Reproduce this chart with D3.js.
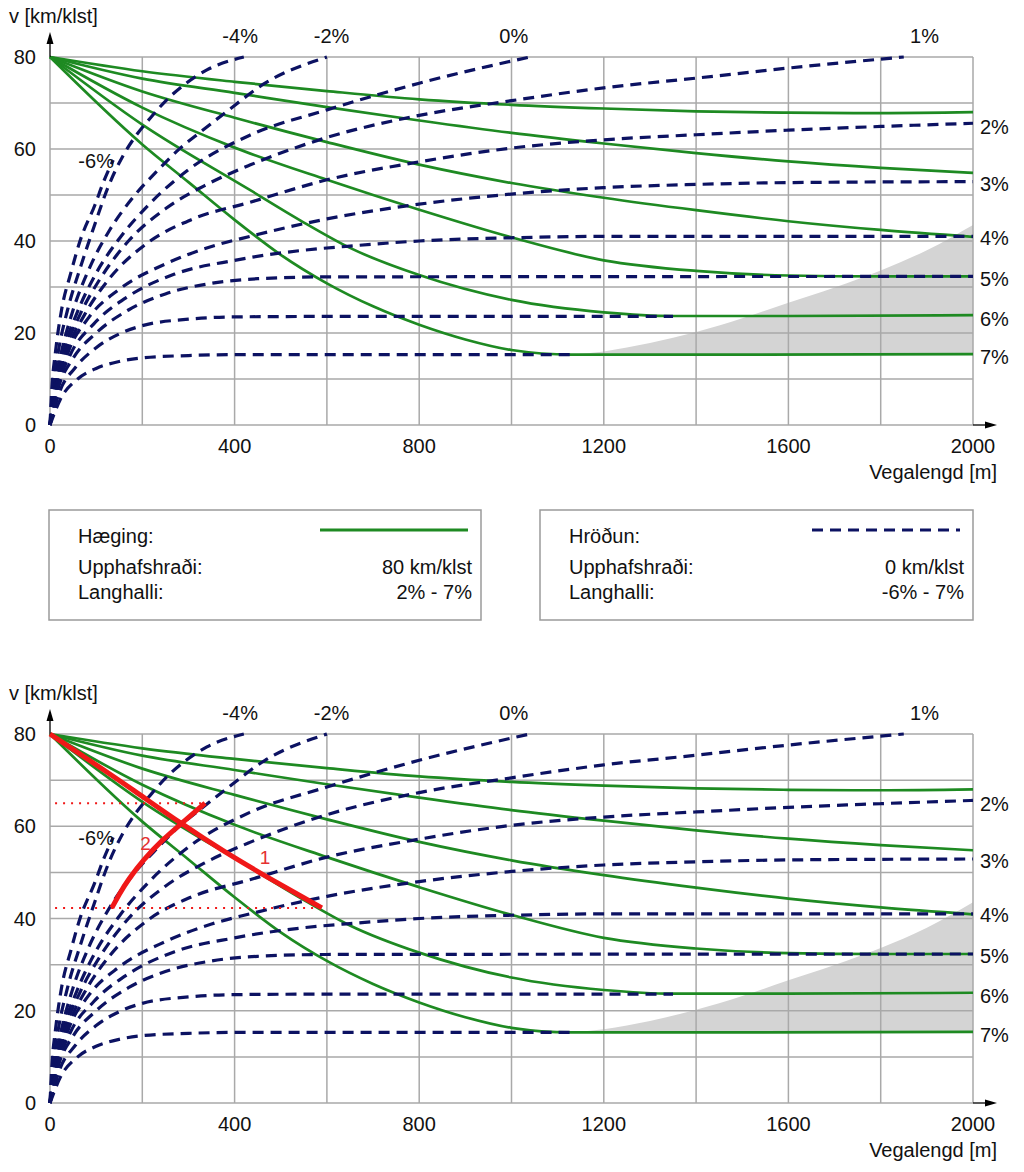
<!DOCTYPE html>
<html><head><meta charset="utf-8">
<script src="https://cdn.jsdelivr.net/npm/d3@7"></script>
<style>
body{margin:0;background:#fff}
text{font-family:"Liberation Sans",Arial,sans-serif;font-size:20px;fill:#111}
</style>
</head><body>
<svg id="chart" width="1024" height="1172"></svg>
<script>
// ---------------- DATA ----------------
const xTicks = [0, 400, 800, 1200, 1600, 2000];
const yTicks = [0, 20, 40, 60, 80];
const xGridVals = [0, 200, 400, 600, 800, 1000, 1200, 1400, 1600, 1800, 2000];
const yGridVals = [0, 10, 20, 30, 40, 50, 60, 70, 80];

// Hæging (deceleration from 80 km/klst), grades 2%..7%
const decelGrades = ["2%", "3%", "4%", "5%", "6%", "7%"];
const decel2 = [[0,80],[200,76.9],[400,74.6],[600,72.6],[800,70.8],[1000,69.6],[1200,68.8],[1400,68.2],[1600,67.9],[1800,67.8],[2000,68.0]];
const decel3 = [[0,80],[200,75.3],[400,72.2],[600,69.1],[800,66.2],[1000,63.5],[1200,61.2],[1400,59.1],[1600,57.3],[1800,55.9],[2000,54.8]];
const decel4 = [[0,80],[200,72.5],[400,66.8],[600,61.5],[800,56.6],[1000,52.6],[1200,49.4],[1400,46.7],[1600,44.3],[1800,42.4],[2000,40.9]];
const decel5 = [[0,80],[200,69.0],[400,60.3],[600,53.3],[800,46.8],[1000,40.8],[1200,35.8],[1400,33.5],[1600,32.5],[1800,32.3],[2000,32.3]];
const decel6 = [[0,80],[200,65.3],[433,51.1],[542,44.5],[650,38.5],[800,32.6],[1000,27.2],[1200,24.5],[1350,23.7],[1600,23.7],[2000,23.9]];
const decel7 = [[0,80],[200,61.0],[300,52.8],[400,44.6],[500,37.0],[600,30.8],[700,25.8],[800,21.8],[900,18.6],[1000,16.3],[1130,15.3],[1400,15.3],[2000,15.4]];

// Hröðun (acceleration from 0 km/klst), grades -6%..7%
const accelGrades = ["-6%", "-4%", "-2%", "0%", "1%", "2%", "3%", "4%", "5%", "6%", "7%"];
const accelM6 = [[0,0],[4,8],[12,16],[25,25],[45,33],[65,40],[98,48],[115,52.6],[137,57.6]];
const accelM4 = [[0,0],[6,8],[18,16],[38,25],[65,34],[95,43],[125,51.5],[158,58.5],[184,62.6],[217,66.7],[253,70.7],[295,74.3],[340,77.2],[420,80]];
const accelM2 = [[0,0],[9,8],[25,16],[50,25],[85,34],[130,42.5],[180,49.5],[234,55.4],[278,59.8],[330,64],[381,68],[466,74.3],[600,80]];
const accel0 = [[0,0],[10,8],[28,16],[57,24],[100,33],[150,40.5],[215,48],[300,55.5],[433,63],[600,68.5],[800,74.3],[1040,80]];
const accel1 = [[0,0],[12,8],[32,16],[65,24],[110,32],[170,40],[250,47],[340,52.3],[433,56.5],[600,62.5],[800,67.3],[1000,70.5],[1200,73.3],[1400,75.4],[1600,77.6],[1850,80]];
const accel2 = [[0,0],[13,8],[36,16],[75,24],[130,32],[210,39.5],[310,44.8],[433,48.4],[600,53.3],[800,57.2],[1000,60.2],[1200,62.0],[1400,63.1],[1600,64.1],[1800,64.9],[2000,65.6]];
const accel3 = [[0,0],[15,8],[40,16],[85,23.5],[150,29.5],[250,35],[350,38.8],[433,41],[600,44.8],[800,48],[1000,50.2],[1200,51.6],[1400,52.3],[1600,52.7],[2000,52.9]];
const accel4 = [[0,0],[16,8],[45,15.5],[95,22],[170,28],[270,32.8],[400,35.8],[550,38],[650,38.9],[800,40],[1000,40.7],[1200,41],[2000,41]];
const accel5 = [[0,0],[18,8],[50,14.5],[100,20],[170,25],[250,28.5],[350,30.8],[450,31.8],[600,32.2],[2000,32.3]];
const accel6 = [[0,0],[20,7],[55,12.5],[100,16.8],[150,19.8],[200,21.6],[300,23],[400,23.5],[600,23.6],[1350,23.6]];
const accel7 = [[0,0],[22,5.5],[60,10],[100,12.3],[150,13.8],[200,14.6],[300,15.1],[400,15.3],[1130,15.3]];

// Grey zone (upper boundary), lower boundary follows 7% line
const greyUpper = [[1130,15.3],[1200,16.0],[1300,17.8],[1400,20.2],[1500,23.2],[1600,26.6],[1700,29.9],[1800,33.6],[1900,38.0],[2000,43.5]];
const greyLower = 15.3;

// Grade labels
const topLabelText = ["-4%", "-2%", "0%", "1%"];
const topLabelDist = [412, 610, 1005, 1895];
const sideLabelText = ["2%", "3%", "4%", "5%", "6%", "7%"];
const sideLabelSpeed = [64.8, 52.4, 40.7, 31.8, 23.1, 14.8];
const leftLabel = {text: "-6%", dist: 100, speed: 57.5};

// Legend texts
const legendLeft = ["Hæging:", "Upphafshraði:", "Langhalli:"];
const legendLeftVals = ["", "80 km/klst", "2% - 7%"];
const legendRight = ["Hröðun:", "Upphafshraði:", "Langhalli:"];
const legendRightVals = ["", "0 km/klst", "-6% - 7%"];

// Red example (lower chart)
const red1 = [[0,80],[90,74.0],[180,67.9],[282,60.7],[380,54.3],[470,49.0],[589,42.3]];
const red2 = [[134,42.3],[150,45.3],[170,48.5],[202,52.7],[245,57.2],[286,60.7],[336,65.0]];
const redDot1 = [[11,65.0],[336,65.0]];
const redDot2 = [[11,42.3],[589,42.3]];
const redLabels = [{t:"1", d:466, v:53.2}, {t:"2", d:207, v:56.3}];

// ---------------- DRAW ----------------
const svg = d3.select("#chart");
const GREEN = "#1e8a22", NAVY = "#0c1262", GRID = "#a9a9a9", RED = "#f01818";
const x = d3.scaleLinear().domain([0, 2000]).range([50, 973]);

const decelAll = [decel2, decel3, decel4, decel5, decel6, decel7];
const accelAll = [accelM6, accelM4, accelM2, accel0, accel1, accel2, accel3, accel4, accel5, accel6, accel7];

function panel(top, bottom, withRed) {
  const y = d3.scaleLinear().domain([0, 80]).range([bottom, top]);
  const g = svg.append("g");
  const line = d3.line().x(d => x(d[0])).y(d => y(d[1])).curve(d3.curveMonotoneX);

  // grey zone
  const area = d3.area().x(d => x(d[0])).y0(y(greyLower)).y1(d => y(d[1])).curve(d3.curveMonotoneX);
  g.append("path").attr("d", area(greyUpper)).attr("fill", "#d4d4d4");

  // grid
  g.selectAll(".vg").data(xGridVals).join("line")
    .attr("x1", d => x(d)).attr("x2", d => x(d)).attr("y1", y(0)).attr("y2", y(80))
    .attr("stroke", GRID).attr("stroke-width", 1.5);
  g.selectAll(".hg").data(yGridVals).join("line")
    .attr("x1", x(0)).attr("x2", x(2000)).attr("y1", d => y(d)).attr("y2", d => y(d))
    .attr("stroke", GRID).attr("stroke-width", 1.5);

  // green deceleration curves
  g.selectAll(".dec").data(decelAll).join("path")
    .attr("d", d => line(d)).attr("fill", "none")
    .attr("stroke", GREEN).attr("stroke-width", 2.7);

  // dashed acceleration curves
  g.selectAll(".acc").data(accelAll).join("path")
    .attr("d", d => line(d)).attr("fill", "none")
    .attr("stroke", NAVY).attr("stroke-width", 3.2).attr("stroke-dasharray", "11,7");

  // axes arrows
  g.append("line").attr("x1", x(0)).attr("x2", x(0)).attr("y1", y(80)).attr("y2", top - 16)
    .attr("stroke", "#000").attr("stroke-width", 1.3);
  g.append("path").attr("d", `M${x(0)},${top-25} l-3.5,12 l7,0 z`).attr("fill", "#000");
  g.append("line").attr("x1", x(2000)).attr("x2", x(2000) + 16).attr("y1", y(0)).attr("y2", y(0))
    .attr("stroke", "#000").attr("stroke-width", 1.3);
  g.append("path").attr("d", `M${x(2000)+24},${y(0)} l-12,-3.5 l0,7 z`).attr("fill", "#000");

  // tick labels
  g.selectAll(".yt").data(yTicks).join("text")
    .attr("x", 36).attr("y", d => y(d)).attr("dy", "0.35em").attr("text-anchor", "end").text(d => d);
  g.selectAll(".xt").data(xTicks).join("text")
    .attr("x", d => x(d)).attr("y", bottom + 28).attr("text-anchor", "middle").text(d => d);

  // axis titles
  g.append("text").attr("x", 9).attr("y", top - 34).text("v [km/klst]");
  g.append("text").attr("x", 997).attr("y", bottom + 54).attr("text-anchor", "end").text("Vegalengd [m]");

  // grade labels
  g.selectAll(".tl").data(topLabelText).join("text")
    .attr("x", (d, i) => x(topLabelDist[i])).attr("y", top - 14).attr("text-anchor", "middle").text(d => d);
  g.selectAll(".sl").data(sideLabelText).join("text")
    .attr("x", 980).attr("y", (d, i) => y(sideLabelSpeed[i])).attr("dy", "0.35em").text(d => d);
  g.append("text").attr("x", x(leftLabel.dist)).attr("y", y(leftLabel.speed)).attr("dy", "0.35em")
    .attr("text-anchor", "middle").text(leftLabel.text);

  if (withRed) {
    const straight = d3.line().x(d => x(d[0])).y(d => y(d[1]));
    [redDot1, redDot2].forEach(p => g.append("path").attr("d", straight(p)).attr("fill", "none")
      .attr("stroke", RED).attr("stroke-width", 2).attr("stroke-dasharray", "2,6"));
    const smooth = d3.line().x(d => x(d[0])).y(d => y(d[1])).curve(d3.curveBasis);
    [red1, red2].forEach(p => g.append("path").attr("d", smooth(p)).attr("fill", "none")
      .attr("stroke", RED).attr("stroke-width", 5).attr("stroke-linecap", "butt"));
    g.selectAll(".rl").data(redLabels).join("text")
      .attr("x", d => x(d.d)).attr("y", d => y(d.v)).attr("dy", "0.35em").attr("text-anchor", "middle")
      .style("fill", "#e53030").style("font-size", "19px").text(d => d.t);
  }
}

panel(57, 425, false);
panel(734, 1103, true);

// legend
function legendBox(x0, x1, labels, vals, dashed) {
  const g = svg.append("g");
  g.append("rect").attr("x", x0).attr("y", 510).attr("width", x1 - x0).attr("height", 110)
    .attr("fill", "none").attr("stroke", "#9a9a9a").attr("stroke-width", 1.5);
  g.selectAll(".ll").data(labels).join("text")
    .attr("x", x0 + 29).attr("y", (d, i) => [543, 574, 599][i]).text(d => d);
  g.selectAll(".lv").data(vals).join("text")
    .attr("x", x1 - 9).attr("y", (d, i) => [543, 574, 599][i]).attr("text-anchor", "end").text(d => d);
  const ln = g.append("line").attr("x1", x1 - 161).attr("x2", x1 - 13).attr("y1", 530).attr("y2", 530)
    .attr("stroke-width", 3);
  if (dashed) ln.attr("stroke", NAVY).attr("stroke-dasharray", "11,7");
  else ln.attr("stroke", GREEN);
}
legendBox(49, 481, legendLeft, legendLeftVals, false);
legendBox(540, 973, legendRight, legendRightVals, true);
</script>
</body></html>
